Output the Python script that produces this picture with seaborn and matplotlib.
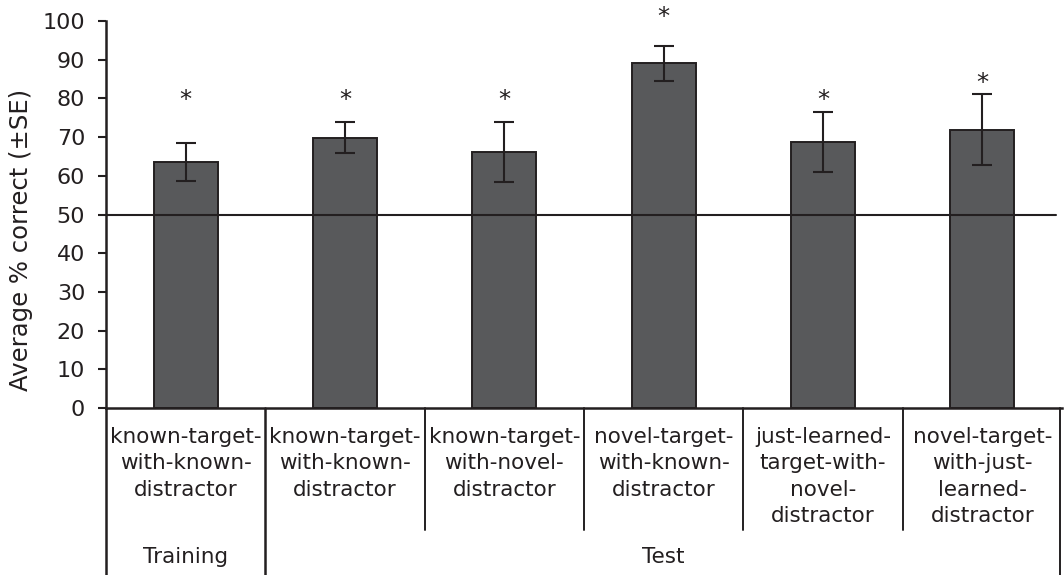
import matplotlib
matplotlib.use("Agg")
import matplotlib.pyplot as plt
import matplotlib.transforms as mtransforms
import seaborn as sns
import pandas as pd

# Experimental conditions, grouped by phase
phases = ["Training", "Test", "Test", "Test", "Test", "Test"]
conditions = [
    "known-target-\nwith-known-\ndistractor",
    "known-target-\nwith-known-\ndistractor",
    "known-target-\nwith-novel-\ndistractor",
    "novel-target-\nwith-known-\ndistractor",
    "just-learned-\ntarget-with-\nnovel-\ndistractor",
    "novel-target-\nwith-just-\nlearned-\ndistractor",
]
mean_correct = [63.6, 69.8, 66.1, 89.1, 68.7, 71.9]
std_error = [5.0, 4.0, 7.7, 4.5, 7.7, 9.2]
significance_y = [79.5, 79.5, 79.5, 101.0, 79.5, 84.0]
chance_level = 50
y_ticks = list(range(0, 101, 10))

ink = "#231f20"
bar_fill = "#58595b"

sns.set_theme(style="white")
plt.rcParams["font.family"] = ["DejaVu Sans"]
plt.rcParams["text.color"] = ink
plt.rcParams["axes.labelcolor"] = ink
plt.rcParams["xtick.color"] = ink
plt.rcParams["ytick.color"] = ink

df = pd.DataFrame({
    "slot": list(range(len(conditions))),
    "mean": mean_correct,
})

fig = plt.figure(figsize=(10.64, 5.75), dpi=100)
W, H = 1064, 575
ax = fig.add_axes([106 / W, (H - 408) / H, (1062 - 106) / W, (408 - 21) / H])

sns.barplot(data=df, x="slot", y="mean", color=bar_fill, width=0.4,
            edgecolor=ink, linewidth=1.4, saturation=1, errorbar=None, ax=ax)

ax.errorbar(df["slot"], mean_correct, yerr=std_error, fmt="none",
            ecolor=ink, elinewidth=1.5, capsize=7, capthick=1.5, zorder=5)

for xi, sy in zip(df["slot"], significance_y):
    ax.text(xi, sy, "*", ha="center", va="center", fontsize=17.5,
            color=ink, clip_on=False)

ax.axhline(chance_level, xmin=0, xmax=0.9937, color=ink, lw=1.5, zorder=4)

ax.set_xlim(-0.5, len(conditions) - 0.5)
ax.set_ylim(0, 100)
ax.set_yticks(y_ticks)
ax.set_yticklabels([str(t) for t in y_ticks], fontsize=16)
ax.set_xticks([])
ax.set_xlabel("")
ax.set_ylabel("Average % correct (±SE)", fontsize=17.5)
ax.yaxis.set_label_coords((33 - 106) / (1062 - 106), (408 - 240) / (408 - 21))
ax.tick_params(axis="y", direction="out", length=6, width=1.5, pad=9, left=True)

for side in ["top", "right"]:
    ax.spines[side].set_visible(False)
for side in ["left", "bottom"]:
    ax.spines[side].set_color(ink)
    ax.spines[side].set_linewidth(1.8)

# Category table below the axis
trans = mtransforms.blended_transform_factory(ax.transData, ax.transAxes)
px = 1 / (408 - 21)
table_bottom = -(H - 408 + 5) * px
short_bottom = -(530 - 408) * px

ax.plot([0, 0], [0, table_bottom], transform=ax.transAxes, color=ink,
        lw=1.8, clip_on=False, solid_capstyle="butt")
ax.plot([len(conditions) - 0.5 - 0.01] * 2, [0, table_bottom], transform=trans,
        color=ink, lw=1.4, clip_on=False)

for i in range(1, len(conditions)):
    new_phase = phases[i] != phases[i - 1]
    ax.plot([i - 0.5, i - 0.5], [0, table_bottom if new_phase else short_bottom],
            transform=trans, color=ink, lw=1.4 if not new_phase else 1.8,
            clip_on=False)

label_top = -(427 - 408) * px
for xi, cond in zip(df["slot"], conditions):
    ax.text(xi, label_top, cond, transform=trans, ha="center", va="top",
            fontsize=15.5, linespacing=1.4, color=ink)

# Phase labels centered under their group of conditions
phase_y = -(557 - 408) * px
groups = {}
for xi, ph in zip(df["slot"], phases):
    groups.setdefault(ph, []).append(xi)
for ph, xs in groups.items():
    ax.text((min(xs) + max(xs)) / 2, phase_y, ph, transform=trans,
            ha="center", va="center", fontsize=15.5, color=ink)

fig.savefig("out.png", dpi=100)
